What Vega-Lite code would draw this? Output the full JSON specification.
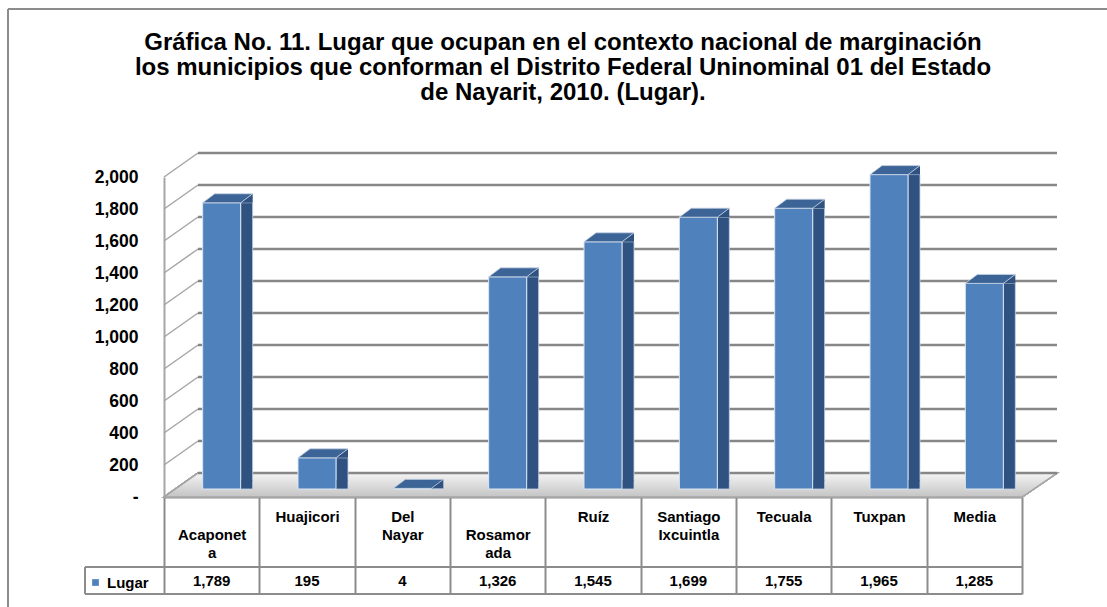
{
  "$schema": "https://vega.github.io/schema/vega-lite/v6.json",
  "width": 858,
  "height": 320,
  "autosize": {"type": "none"},
  "padding": {"left": 164, "top": 177, "right": 85, "bottom": 110},
  "background": "white",
  "config": {"view": {"stroke": null}, "font": "Liberation Sans", "axis": {"labelOverlap": false, "labelSeparation": 0}},
  "title": {
    "text": ["Gráfica No. 11. Lugar que ocupan en el contexto nacional de marginación", "los municipios que conforman el Distrito Federal Uninominal 01 del Estado", "de Nayarit, 2010. (Lugar)."],
    "anchor": "middle",
    "frame": "group",
    "dx": -30,
    "offset": -97,
    "font": "Liberation Sans",
    "fontSize": 24,
    "fontWeight": "bold",
    "color": "#000000",
    "lineHeight": 25
  },
  "datasets": {
    "lugares": [
      {"municipio": "Acaponeta", "lugar": 1789},
      {"municipio": "Huajicori", "lugar": 195},
      {"municipio": "Del Nayar", "lugar": 4},
      {"municipio": "Rosamorada", "lugar": 1326},
      {"municipio": "Ruíz", "lugar": 1545},
      {"municipio": "Santiago Ixcuintla", "lugar": 1699},
      {"municipio": "Tecuala", "lugar": 1755},
      {"municipio": "Tuxpan", "lugar": 1965},
      {"municipio": "Media", "lugar": 1285}
    ],
    "grid": [
      {"t": 0}, {"t": 200}, {"t": 400}, {"t": 600}, {"t": 800}, {"t": 1000},
      {"t": 1200}, {"t": 1400}, {"t": 1600}, {"t": 1800}, {"t": 2000}
    ]
  },
  "data": {"name": "lugares"},
  "layer": [
    {
      "mark": {"type": "bar", "width": 38, "xOffset": 10, "yOffset": -8, "y2Offset": -8, "opacity": 0},
      "encoding": {
        "x": {"field": "municipio", "type": "nominal", "sort": null,
          "scale": {"paddingInner": 0, "paddingOuter": 0},
          "axis": {
            "orient": "bottom", "title": null, "labelAngle": 0, "labelAlign": "center", "tickBand": "extent",
            "tickSize": 97, "tickColor": "#8c8c8c", "tickWidth": 2,
            "domainColor": "#8c8c8c", "domainWidth": 2,
            "labelBaseline": "top", "labelPadding": -85, "labelFont": "Liberation Sans",
            "labelFontSize": 15, "labelFontWeight": "bold", "labelColor": "#000000", "labelLineHeight": 18,
            "labelOverlap": false,
            "labelExpr": "datum.value == 'Acaponeta' ? ['', 'Acaponet', 'a'] : datum.value == 'Del Nayar' ? ['Del', 'Nayar'] : datum.value == 'Rosamorada' ? ['', 'Rosamor', 'ada'] : datum.value == 'Santiago Ixcuintla' ? ['Santiago', 'Ixcuintla'] : datum.value"
          }},
        "y": {"field": "lugar", "type": "quantitative",
          "scale": {"domain": [0, 2000], "nice": false, "zero": true},
          "axis": {
            "title": null, "values": [0, 200, 400, 600, 800, 1000, 1200, 1400, 1600, 1800, 2000], "tickCount": 11,
            "labelExpr": "datum.value == 0 ? '-' : format(datum.value, ',')",
            "ticks": false, "grid": false, "domainColor": "#a6a6a6", "domainWidth": 2,
            "labelOverlap": false,
            "labelFont": "Liberation Sans", "labelFontSize": 17.5, "labelFontWeight": "bold",
            "labelColor": "#000000", "labelPadding": 26
          }}
      }
    },
    {
      "mark": {"type": "rule", "x": -156, "x2": {"expr": "width + 200"}, "yOffset": -168, "color": "#8c8c8c", "strokeWidth": 1.5},
      "encoding": {"y": {"datum": 2000}}
    },
    {
      "mark": {"type": "rule", "x": -156, "yOffset": -168, "y2Offset": 200, "color": "#8c8c8c", "strokeWidth": 1.5},
      "encoding": {"y": {"datum": 2000}, "y2": {"datum": 0}}
    },
    {
      "mark": {"type": "point", "x": 0, "shape": "M 0 0 L 858 0 L 893 -24 L 34 -24 Z", "size": 4, "filled": true, "opacity": 1, "stroke": "#a6a6a6", "strokeWidth": 1.5,
        "fill": {"gradient": "linear", "x1": 0, "y1": 0, "x2": 0, "y2": 1, "stops": [{"offset": 0, "color": "#f4f4f4"}, {"offset": 1, "color": "#c4c4c4"}]}},
      "encoding": {"y": {"datum": 0}}
    },
    {
      "data": {"name": "grid"},
      "mark": {"type": "point", "x": 0, "shape": "M 0 0 L 34 -24", "size": 4, "filled": false, "opacity": 1, "stroke": "#a6a6a6", "strokeWidth": 1.5},
      "encoding": {"y": {"field": "t", "type": "quantitative"}}
    },
    {
      "data": {"name": "grid"},
      "mark": {"type": "rule", "x": 34, "x2": {"expr": "width + 35"}, "yOffset": -24, "color": "#878787", "strokeWidth": 2.5},
      "encoding": {"y": {"field": "t", "type": "quantitative"}}
    },
    {
      "mark": {"type": "bar", "width": 12, "xOffset": 35, "yOffset": -8, "y2Offset": -17, "fill": "#2f5280", "stroke": "#c8d4e6", "strokeWidth": 0.8},
      "encoding": {
        "x": {"field": "municipio", "type": "nominal", "sort": null},
        "y": {"field": "lugar", "type": "quantitative"}
      }
    },
    {
      "mark": {"type": "point", "shape": "M 29 -8 L 41 -17 L 41 -8 Z", "size": 4, "filled": true, "opacity": 1, "fill": "#2f5280", "strokeWidth": 0},
      "encoding": {
        "x": {"field": "municipio", "type": "nominal", "sort": null},
        "y": {"field": "lugar", "type": "quantitative"}
      }
    },
    {
      "mark": {"type": "point", "shape": "M 29 -17 L 29 -8 L 41 -17 Z", "size": 4, "filled": true, "opacity": 1, "fill": "#2f5280", "strokeWidth": 0},
      "encoding": {
        "x": {"field": "municipio", "type": "nominal", "sort": null},
        "y": {"datum": 0}
      }
    },
    {
      "mark": {"type": "bar", "width": 38, "xOffset": 10, "yOffset": -8, "y2Offset": -8, "stroke": "#dce6f2", "strokeWidth": 1},
      "encoding": {
        "x": {"field": "municipio", "type": "nominal", "sort": null},
        "y": {"field": "lugar", "type": "quantitative"},
        "color": {"datum": "Lugar", "scale": {"range": ["#4f81bd"]},
          "legend": {"orient": "none", "legendX": -76, "legendY": 398, "title": null, "symbolType": "square", "symbolSize": 45,
            "labelFont": "Liberation Sans", "labelFontSize": 15, "labelFontWeight": "bold", "labelColor": "#000000", "symbolStrokeWidth": 0}}
      }
    },
    {
      "mark": {"type": "point", "shape": "M -9 -8 L 29 -8 L 41 -17 L 3 -17 Z", "size": 4, "filled": true, "opacity": 1, "fill": "#3c6496", "stroke": "#c8d4e6", "strokeWidth": 0.8},
      "encoding": {
        "x": {"field": "municipio", "type": "nominal", "sort": null},
        "y": {"field": "lugar", "type": "quantitative"}
      }
    },
    {
      "mark": {"type": "text", "dy": 84, "font": "Liberation Sans", "fontSize": 15, "fontWeight": "bold", "color": "#000000", "baseline": "middle"},
      "encoding": {
        "x": {"field": "municipio", "type": "nominal", "sort": null},
        "y": {"datum": 0},
        "text": {"field": "lugar", "type": "quantitative", "format": ","}
      }
    },
    {
      "mark": {"type": "rule", "x": -79, "x2": {"expr": "width"}, "yOffset": 70, "color": "#8c8c8c", "strokeWidth": 2},
      "encoding": {"y": {"datum": 0}}
    },
    {
      "mark": {"type": "rule", "x": -79, "x2": {"expr": "width"}, "yOffset": 97, "color": "#8c8c8c", "strokeWidth": 2},
      "encoding": {"y": {"datum": 0}}
    },
    {
      "mark": {"type": "rule", "x": -79, "yOffset": 70, "y2Offset": 97, "color": "#8c8c8c", "strokeWidth": 2},
      "encoding": {"y": {"datum": 0}, "y2": {"datum": 0}}
    }
  ]
}
